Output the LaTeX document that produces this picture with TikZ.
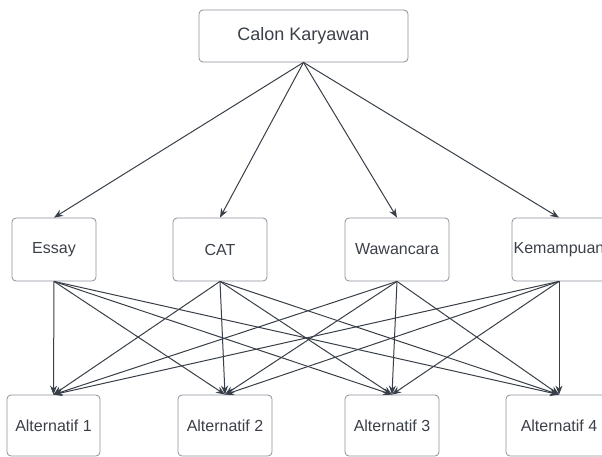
\documentclass[tikz,border=0pt]{standalone}
\usepackage{fontspec}
\setmainfont{Liberation Sans}
\usetikzlibrary{arrows.meta}
\definecolor{linegray}{HTML}{383F48}
\definecolor{boxgray}{HTML}{8C9099}
\definecolor{textgray}{HTML}{3B4048}

\begin{document}
\begin{tikzpicture}[x=1pt,y=-1pt]
    \tikzstyle box=[draw=boxgray,rounded corners=4pt,line width=0.8pt,text=textgray,inner sep=1pt,font=\fontsize{16}{19}\selectfont]
    \tikzstyle link=[linegray,line width=1pt,-{Stealth[length=9pt,width=7pt]}]
    \useasboundingbox (0,0) rectangle (602,457);
    \node[box,minimum width=209pt,minimum height=52pt,font=\fontsize{18}{21}\selectfont] (calon) at (303.5,36) {Calon Karyawan};
    \node[box,minimum width=84pt,minimum height=63pt] (essay) at (54,249.5) {Essay};
    \node[box,minimum width=94pt,minimum height=63pt] (cat) at (220,249.5) {CAT};
    \node[box,minimum width=104pt,minimum height=63pt] (wawancara) at (397,249.5) {Wawancara};
    \node[box,minimum width=94pt,minimum height=63pt] (kemampuan) at (559,249.5) {Kemampuan};
    \node[box,minimum width=93pt,minimum height=61pt] (alt1) at (53.5,425.5) {Alternatif 1};
    \node[box,minimum width=94pt,minimum height=61pt] (alt2) at (225,425.5) {Alternatif 2};
    \node[box,minimum width=94pt,minimum height=61pt] (alt3) at (392,425.5) {Alternatif 3};
    \node[box,minimum width=106pt,minimum height=61pt] (alt4) at (559,425.5) {Alternatif 4};
    \draw[link] (calon.south) -- (essay.north);
    \draw[link] (calon.south) -- (cat.north);
    \draw[link] (calon.south) -- (wawancara.north);
    \draw[link] (calon.south) -- (kemampuan.north);
    \draw[link] (essay.south) -- (alt1.north);
    \draw[link] (essay.south) -- (alt2.north);
    \draw[link] (essay.south) -- (alt3.north);
    \draw[link] (essay.south) -- (alt4.north);
    \draw[link] (cat.south) -- (alt1.north);
    \draw[link] (cat.south) -- (alt2.north);
    \draw[link] (cat.south) -- (alt3.north);
    \draw[link] (cat.south) -- (alt4.north);
    \draw[link] (wawancara.south) -- (alt1.north);
    \draw[link] (wawancara.south) -- (alt2.north);
    \draw[link] (wawancara.south) -- (alt3.north);
    \draw[link] (wawancara.south) -- (alt4.north);
    \draw[link] (kemampuan.south) -- (alt1.north);
    \draw[link] (kemampuan.south) -- (alt2.north);
    \draw[link] (kemampuan.south) -- (alt3.north);
    \draw[link] (kemampuan.south) -- (alt4.north);
\end{tikzpicture}
\end{document}
